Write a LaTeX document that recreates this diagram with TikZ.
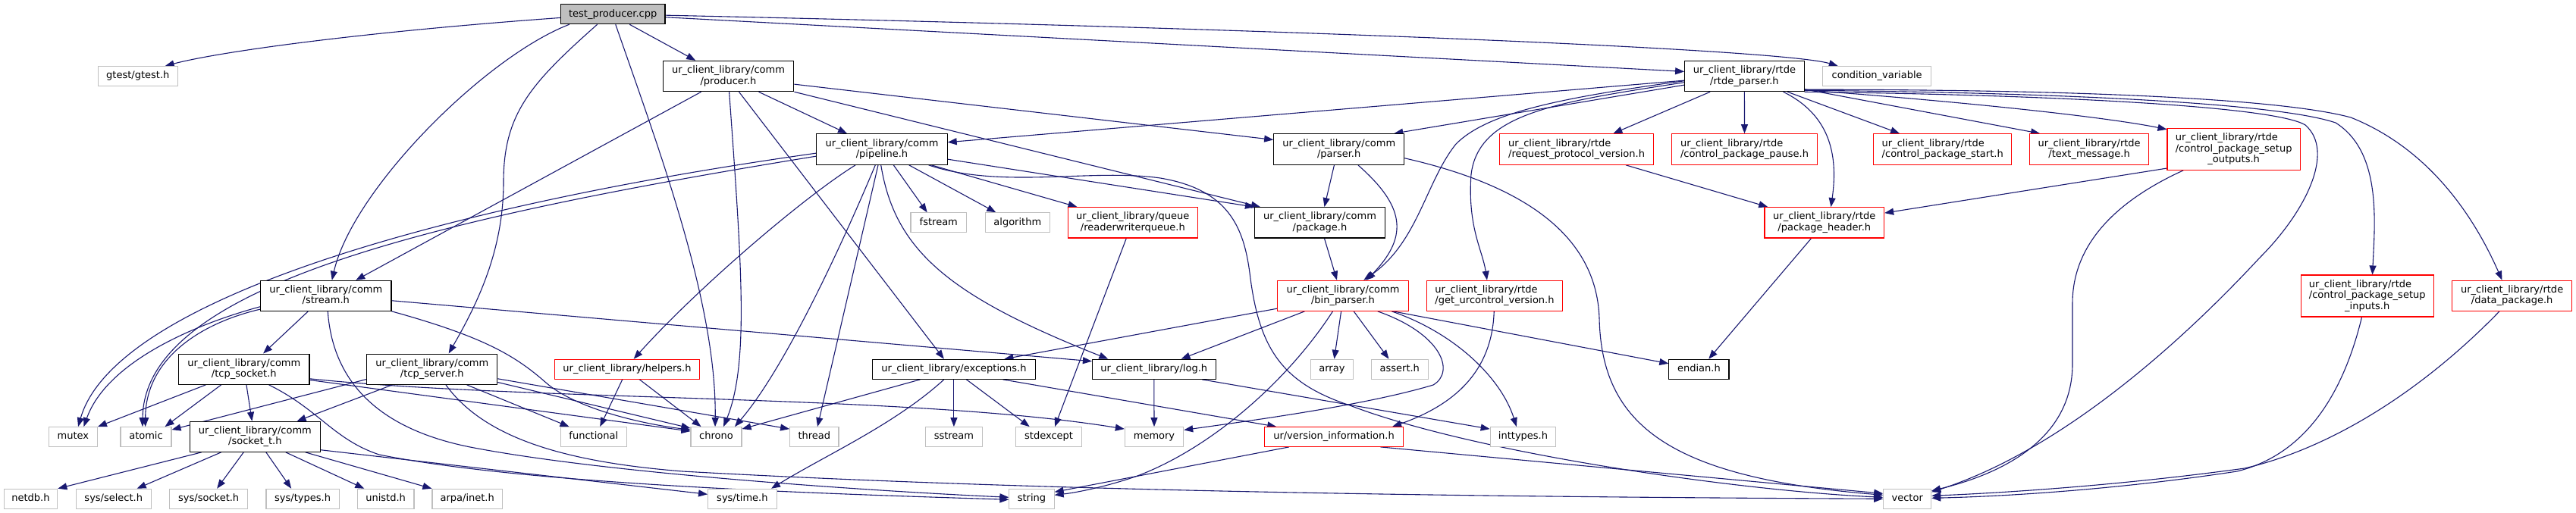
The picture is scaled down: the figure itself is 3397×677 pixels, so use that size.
\documentclass[tikz,border=0pt]{standalone}
\usepackage{fontspec}
\newfontfamily\djfont{DejaVu Sans}
\usetikzlibrary{arrows.meta,backgrounds}
\definecolor{edgeblue}{HTML}{191970}
\definecolor{grey75}{HTML}{BFBFBF}
\newcommand\nodefont{\djfont\fontsize{13}{14.4}\selectfont}
\newcommand\strt{\rule[-3.2pt]{0pt}{12.8pt}}
\newsavebox\cubox
\newcommand\cunder[2]{\sbox\cubox{#1}\makebox[\wd\cubox][c]{#2}}
\tikzset{
 nb/.style={draw=black, fill=white, line width=1.1pt, inner sep=0pt, font=\nodefont, align=center},
 sysn/.style={nb, draw=grey75},
 trn/.style={nb, draw=red},
 root/.style={nb, fill=grey75},
 sz/.style 2 args={minimum width=#1pt, minimum height=#2pt},
 edge/.style={draw=edgeblue, line width=1.1pt, -{Triangle[length=12pt,width=9pt]}}
}
\begin{document}
\begin{tikzpicture}[x=1pt,y=-1pt]
\useasboundingbox (0,0) rectangle (3397,677);
% nodes
\node[root, sz={137.6}{26}] (tp) at (808.2,18.7) {\strt test\_producer.cpp};
\node[sysn, sz={104.6}{25.7}] (gtest) at (181.8,100.5) {\strt gtest/gtest.h};
\node[nb, sz={172.7}{40.4}] (producer) at (960.5,100.5) {\strt ur\_client\_library/comm\\\strt /producer.h};
\node[nb, sz={157.5}{40.4}] (rtdep) at (2300.4,100.5) {\strt ur\_client\_library/rtde\\\strt /rtde\_parser.h};
\node[sysn, sz={143.2}{25.7}] (condvar) at (2475.1,100.5) {\strt condition\_variable};
\node[nb, sz={172.3}{40.6}] (pipeline) at (1163,197) {\strt ur\_client\_library/comm\\\strt /pipeline.h};
\node[nb, sz={172}{40.6}] (parser) at (1765.7,197) {\strt ur\_client\_library/comm\\\strt /parser.h};
\node[trn, align=left, sz={203.5}{40.6}] (reqproto) at (2079.1,197) {\strt ur\_client\_library/rtde\\\strt /request\_protocol\_version.h};
\node[trn, align=left, sz={191.2}{40.6}] (pause) at (2300.5,197) {\strt ur\_client\_library/rtde\\\strt /control\_package\_pause.h};
\node[trn, align=left, sz={181.6}{40.6}] (start) at (2561.7,197) {\strt ur\_client\_library/rtde\\\strt /control\_package\_start.h};
\node[trn, sz={157.2}{40.6}] (textmsg) at (2755.1,197) {\strt ur\_client\_library/rtde\\\strt /text\_message.h};
\node[trn, align=left, sz={175.2}{55}] (setout) at (2945.6,196.8) {\strt ur\_client\_library/rtde\\\strt /control\_package\_setup\\\strt\cunder{/control\_package\_setup}{\_outputs.h}};
\node[sysn, sz={73.6}{25.7}] (fstream) at (1237.8,293.7) {\strt fstream};
\node[sysn, sz={85.4}{25.7}] (algorithm) at (1341.8,293.7) {\strt algorithm};
\node[trn, sz={170.5}{40.3}] (rwq) at (1493.8,293.8) {\strt ur\_client\_library/queue\\\strt /readerwriterqueue.h};
\node[nb, sz={172}{40.3}] (package) at (1740.5,293.8) {\strt ur\_client\_library/comm\\\strt /package.h};
\node[trn, sz={157.6}{40.3}] (pkghdr) at (2405.8,293.8) {\strt ur\_client\_library/rtde\\\strt /package\_header.h};
\node[nb, sz={172.4}{40}] (stream) at (429.8,390.3) {\strt ur\_client\_library/comm\\\strt /stream.h};
\node[trn, sz={172.3}{40}] (binparser) at (1771,390.3) {\strt ur\_client\_library/comm\\\strt /bin\_parser.h};
\node[trn, align=left, sz={179.4}{40}] (geturc) at (1971,390.3) {\strt ur\_client\_library/rtde\\\strt /get\_urcontrol\_version.h};
\node[trn, align=left, sz={175.1}{55}] (setin) at (3121.7,390.5) {\strt ur\_client\_library/rtde\\\strt /control\_package\_setup\\\strt\cunder{/control\_package\_setup}{\_inputs.h}};
\node[trn, sz={157.7}{40}] (datapkg) at (3312.6,390.3) {\strt ur\_client\_library/rtde\\\strt /data\_package.h};
\node[nb, sz={172.4}{40.3}] (tcpsock) at (321.8,487.2) {\strt ur\_client\_library/comm\\\strt /tcp\_socket.h};
\node[nb, sz={172}{40.3}] (tcpserv) at (569.8,487.2) {\strt ur\_client\_library/comm\\\strt /tcp\_server.h};
\node[trn, sz={191}{25.7}] (helpers) at (827,487.2) {\strt ur\_client\_library/helpers.h};
\node[nb, sz={215}{26}] (exceptions) at (1257.9,487.3) {\strt ur\_client\_library/exceptions.h};
\node[nb, sz={162.7}{26}] (log) at (1521.8,487.3) {\strt ur\_client\_library/log.h};
\node[sysn, sz={56.6}{26}] (array) at (1756.4,487.3) {\strt array};
\node[sysn, sz={74.7}{26}] (assert) at (1845.8,487.3) {\strt assert.h};
\node[nb, sz={79.1}{26}] (endian) at (2240.4,487.3) {\strt endian.h};
\node[sysn, sz={64}{25.7}] (mutex) at (96.4,576.5) {\strt mutex};
\node[sysn, sz={67}{25.7}] (atomic) at (192.5,576.5) {\strt atomic};
\node[nb, sz={172}{40}] (sockett) at (336.4,576.3) {\strt ur\_client\_library/comm\\\strt /socket\_t.h};
\node[sysn, sz={87}{25.7}] (functional) at (782.8,576.5) {\strt functional};
\node[sysn, sz={67}{25.7}] (chrono) at (944.5,576.5) {\strt chrono};
\node[sysn, sz={64.4}{25.7}] (thread) at (1073.8,576.5) {\strt thread};
\node[sysn, sz={75}{25.7}] (sstream) at (1257.9,576.5) {\strt sstream};
\node[sysn, sz={87.3}{25.7}] (stdexcept) at (1383.1,576.5) {\strt stdexcept};
\node[sysn, sz={77.3}{25.7}] (memory) at (1522,576.5) {\strt memory};
\node[trn, sz={183}{25.7}] (verinfo) at (1759,576.5) {\strt ur/version\_information.h};
\node[sysn, sz={86.6}{25.7}] (inttypes) at (2008.5,576.5) {\strt inttypes.h};
\node[sysn, sz={70.6}{26}] (netdb) at (40.5,658.3) {\strt netdb.h};
\node[sysn, sz={99.2}{26}] (sysselect) at (149.8,658.3) {\strt sys/select.h};
\node[sysn, sz={102.8}{26}] (syssocket) at (275.2,658.3) {\strt sys/socket.h};
\node[sysn, sz={96.2}{26}] (systypes) at (399.1,658.3) {\strt sys/types.h};
\node[sysn, sz={74.7}{26}] (unistd) at (508.6,658.3) {\strt unistd.h};
\node[sysn, sz={92.5}{26}] (arpa) at (616.2,658.3) {\strt arpa/inet.h};
\node[sysn, sz={90.6}{26}] (systime) at (978.9,658.3) {\strt sys/time.h};
\node[sysn, sz={59.2}{26}] (string) at (1360.5,658.3) {\strt string};
\node[sysn, sz={62.9}{26}] (vector) at (2515.2,658.3) {\strt vector};
% edges
\begin{pgfonlayer}{background}
% test_producer
\draw[edge] ([yshift=-18.3pt]tp.north west) .. controls (480,42) and (290,68) .. ([xshift=88.7pt]gtest.north west);
\draw[edge] ([xshift=11.9pt]tp.south west) .. controls (640,75) and (465,250) .. ([xshift=94.7pt]stream.north west);
\draw[edge] ([xshift=48.8pt]tp.south west) .. controls (700,110) and (664,150) .. (664,240) .. controls (664,330) and (630,400) .. ([xshift=108.4pt]tcpserv.north west);
\draw[edge] ([xshift=72.9pt]tp.south west) .. controls (870,200) and (945,400) .. ([xshift=32.6pt]chrono.north west);
\draw[edge] ([xshift=91.4pt]tp.south west) -- ([xshift=43.6pt]producer.north west);
\draw[edge] ([yshift=-17.6pt]tp.north east) -- ([yshift=-14.7pt]rtdep.north west);
\draw[edge] ([yshift=-15pt]tp.north east) .. controls (1700,38) and (2350,65) .. ([xshift=20.8pt]condvar.north west);
% producer
\draw[edge] ([xshift=51pt]producer.south west) -- ([xshift=126.2pt]stream.north west);
\draw[edge] ([xshift=88pt]producer.south west) .. controls (978,350) and (988,480) .. ([xshift=43.7pt]chrono.north west);
\draw[edge] ([xshift=100.9pt]producer.south west) -- ([xshift=95pt]exceptions.north west);
\draw[edge] ([xshift=126.9pt]producer.south west) -- ([xshift=40.7pt]pipeline.north west);
\draw[edge] ([yshift=-31.4pt]producer.north east) -- ([yshift=-8.3pt]parser.north west);
\draw[edge] (producer.south east) -- ([xshift=8pt]package.north west);
% pipeline
\draw[edge] ([yshift=-26pt]pipeline.north west) .. controls (560,275) and (150,400) .. ([xshift=39.2pt]mutex.north west);
\draw[edge] ([yshift=-30pt]pipeline.north west) .. controls (560,290) and (190,380) .. ([xshift=29.5pt]atomic.north west);
\draw[edge] ([xshift=51.8pt]pipeline.south west) .. controls (1060,260) and (920,380) .. ([xshift=104.7pt]helpers.north west);
\draw[edge] ([xshift=78pt]pipeline.south west) .. controls (1120,300) and (1040,480) .. ([xshift=58.5pt]chrono.north west);
\draw[edge] ([xshift=81.7pt]pipeline.south west) -- ([xshift=37pt]thread.north west);
\draw[edge] ([xshift=102pt]pipeline.south west) -- ([xshift=22.2pt]fstream.north west);
\draw[edge] ([xshift=122.4pt]pipeline.south west) -- ([xshift=14.8pt]algorithm.north west);
\draw[edge] ([xshift=152pt]pipeline.south west) -- ([xshift=12.5pt]rwq.north west);
\draw[edge] ([yshift=-34pt]pipeline.north east) -- (package.north west);
\draw[edge] ([xshift=85.4pt]pipeline.south west) .. controls (1180,330) and (1250,390) .. ([xshift=21.4pt]log.north west);
\draw[edge] ([xshift=148.3pt]pipeline.south west) .. controls (1320,250) and (1440,222) .. (1530,235) .. controls (1620,250) and (1640,300) .. (1648,360) .. controls (1660,460) and (1690,505) .. (1780,535) .. controls (1950,600) and (2300,648) .. ([yshift=2pt]vector.west);
% stream
\draw[edge] ([yshift=-35pt]stream.north west) .. controls (250,430) and (140,480) .. ([xshift=46.6pt]mutex.north west);
\draw[edge] ([yshift=-38.4pt]stream.north west) .. controls (270,425) and (192,470) .. ([xshift=33.2pt]atomic.north west);
\draw[edge] ([xshift=63.3pt]stream.south west) -- ([xshift=112pt]tcpsock.north west);
\draw[edge] ([yshift=-27pt]stream.north east) -- ([yshift=-3pt]log.north west);
\draw[edge] (stream.south east) .. controls (640,445) and (680,470) .. (720,505) .. controls (760,540) and (850,560) .. ([yshift=-4pt]chrono.north west);
\draw[edge] ([xshift=89.2pt]stream.south west) .. controls (440,520) and (520,570) .. (620,590) .. controls (800,625) and (1150,648) .. ([yshift=2pt]string.west);
% tcp_socket
\draw[edge] ([xshift=36.3pt]tcpsock.south west) -- (mutex.north east);
\draw[edge] ([xshift=56.6pt]tcpsock.south west) -- ([xshift=59.1pt]atomic.north west);
\draw[edge] ([xshift=89.9pt]tcpsock.south west) -- ([xshift=82.5pt]sockett.north west);
\draw[edge] ([yshift=-33.3pt]tcpsock.north east) .. controls (700,530) and (1200,520) .. ([yshift=-3pt]memory.north west);
\draw[edge] ([yshift=-35pt]tcpsock.north east) -- ([yshift=-6pt]chrono.north west);
\draw[edge] ([xshift=119.5pt]tcpsock.south west) .. controls (420,540) and (440,580) .. (500,600) .. controls (700,640) and (1100,652) .. ([yshift=-1pt]string.west);
% socket_t
\draw[edge] ([xshift=15.9pt]sockett.south west) -- (netdb.north east);
\draw[edge] ([xshift=41.8pt]sockett.south west) -- ([xshift=81pt]sysselect.north west);
\draw[edge] ([xshift=71.4pt]sockett.south west) -- ([xshift=62.9pt]syssocket.north west);
\draw[edge] ([xshift=101pt]sockett.south west) -- ([xshift=33.7pt]systypes.north west);
\draw[edge] ([xshift=126.9pt]sockett.south west) -- ([xshift=9.6pt]unistd.north west);
\draw[edge] ([xshift=152.8pt]sockett.south west) -- (arpa.north west);
\draw[edge] ([yshift=-38pt]sockett.north east) -- ([yshift=6pt]systime.west);
% tcp_server
\draw[edge] ([yshift=-34pt]tcpserv.north west) -- ([yshift=-4pt]atomic.north east);
\draw[edge] ([xshift=34.1pt]tcpserv.south west) -- ([xshift=141.7pt]sockett.north west);
\draw[edge] ([xshift=132.4pt]tcpserv.south west) -- ([xshift=11.8pt]functional.north west);
\draw[edge] ([yshift=-38pt]tcpserv.north east) -- ([yshift=-2pt]chrono.north west);
\draw[edge] ([yshift=-33.3pt]tcpserv.north east) -- ([yshift=-3pt]thread.north west);
\draw[edge] ([xshift=104.7pt]tcpserv.south west) .. controls (640,580) and (750,610) .. (900,622) .. controls (1400,650) and (2000,656) .. (vector.west);
% helpers
\draw[edge] ([xshift=89.9pt]helpers.south west) -- ([xshift=52.5pt]functional.north west);
\draw[edge] ([xshift=112.1pt]helpers.south west) -- ([xshift=14.1pt]chrono.north west);
% exceptions
\draw[edge] ([xshift=63.6pt]exceptions.south west) -- ([yshift=-3pt]chrono.north east);
\draw[edge] ([xshift=95pt]exceptions.south west) .. controls (1180,560) and (1090,600) .. ([xshift=84pt]systime.north west);
\draw[edge] (exceptions.south) -- (sstream.north);
\draw[edge] ([xshift=124.6pt]exceptions.south west) -- ([xshift=18.8pt]stdexcept.north west);
\draw[edge] ([xshift=172.7pt]exceptions.south west) -- ([xshift=16.3pt]verinfo.north west);
% log
\draw[edge] (log.south) -- (memory.north);
\draw[edge] ([xshift=145.3pt]log.south west) -- ([yshift=-3pt]inttypes.north west);
% readerwriterqueue
\draw[edge] ([xshift=77.3pt]rwq.south west) -- ([xshift=52.1pt]stdexcept.north west);
% parser
\draw[edge] ([xshift=80.3pt]parser.south west) -- ([xshift=92.5pt]package.north west);
\draw[edge] ([xshift=111.7pt]parser.south west) .. controls (1850,270) and (1860,310) .. ([xshift=117.6pt]binparser.north west);
\draw[edge] ([yshift=-32.6pt]parser.north east) .. controls (1990,240) and (2105,300) .. (2109,420) .. controls (2112,560) and (2200,630) .. ([yshift=5pt]vector.west);
% package
\draw[edge] ([xshift=92.5pt]package.south west) -- ([xshift=78.7pt]binparser.north west);
% rtde_parser
\draw[edge] ([yshift=-26.4pt]rtdep.north west) -- ([yshift=-11.6pt]pipeline.north east);
\draw[edge] ([yshift=-32.4pt]rtdep.north west) -- ([xshift=-14pt]parser.north east);
\draw[edge] ([yshift=-27pt]rtdep.north west) .. controls (2050,130) and (1960,150) .. (1920,190) .. controls (1880,240) and (1870,320) .. ([xshift=113.9pt]binparser.north west);
\draw[edge] ([yshift=-29pt]rtdep.north west) .. controls (2050,135) and (1950,150) .. (1940,230) .. controls (1935,300) and (1955,330) .. ([xshift=80.2pt]geturc.north west);
\draw[edge] ([xshift=34pt]rtdep.south west) -- ([xshift=150.6pt]reqproto.north west);
\draw[edge] (rtdep.south) -- (pause.north);
\draw[edge] ([xshift=130.5pt]rtdep.south west) .. controls (2410,150) and (2425,200) .. ([xshift=88pt]pkghdr.north west);
\draw[edge] ([xshift=136.1pt]rtdep.south west) -- ([xshift=34.7pt]start.north west);
\draw[edge] ([yshift=-38pt]rtdep.north east) -- ([xshift=14.1pt]textmsg.north west);
\draw[edge] ([yshift=-39pt]rtdep.north east) .. controls (2600,135) and (2780,155) .. ([yshift=-2pt]setout.north west);
\draw[edge] ([yshift=-39.5pt]rtdep.north east) .. controls (2700,122) and (3000,135) .. (3080,162) .. controls (3140,200) and (3132,290) .. ([xshift=94.9pt]setin.north west);
\draw[edge] ([yshift=-38.5pt]rtdep.north east) .. controls (2700,118) and (3000,128) .. (3100,155) .. controls (3200,195) and (3260,280) .. ([xshift=66.3pt]datapkg.north west);
\draw[edge] (rtdep.south east) .. controls (2700,125) and (3000,140) .. (3040,165) .. controls (3080,200) and (3040,280) .. (2980,340) .. controls (2850,480) and (2700,600) .. ([yshift=9pt]vector.east);
% setup outputs / inputs / data package
\draw[edge] ([yshift=-53.3pt]setout.north west) -- ([yshift=-8pt]pkghdr.north east);
\draw[edge] ([xshift=21.7pt]setout.south west) .. controls (2780,270) and (2733,330) .. (2733,400) -- (2733,480) .. controls (2733,580) and (2640,625) .. ([yshift=-3pt]vector.north east);
\draw[edge] ([xshift=80.9pt]setin.south west) .. controls (3090,520) and (3040,600) .. (2950,622) .. controls (2800,645) and (2650,655) .. ([yshift=1pt]vector.east);
\draw[edge] ([xshift=62.8pt]datapkg.south west) .. controls (3200,510) and (3080,590) .. (2960,618) .. controls (2800,640) and (2650,650) .. ([yshift=4pt]vector.east);
% request protocol / package header
\draw[edge] ([xshift=167.2pt]reqproto.south west) -- ([xshift=4.8pt]pkghdr.north west);
\draw[edge] ([xshift=62.1pt]pkghdr.south west) -- ([xshift=52.9pt]endian.north west);
% bin_parser
\draw[edge] ([yshift=-37.4pt]binparser.north west) -- ([xshift=174.6pt]exceptions.north west);
\draw[edge] ([xshift=36.2pt]binparser.south west) -- ([xshift=117.6pt]log.north west);
\draw[edge] ([xshift=73.2pt]binparser.south west) .. controls (1700,500) and (1600,590) .. (1500,628) .. controls (1460,642) and (1420,650) .. ([yshift=5pt]string.east);
\draw[edge] ([xshift=84.3pt]binparser.south west) -- ([xshift=31.9pt]array.north west);
\draw[edge] ([xshift=100.9pt]binparser.south west) -- ([xshift=23.6pt]assert.north west);
\draw[edge] ([xshift=132.4pt]binparser.south west) .. controls (1900,440) and (1920,490) .. (1890,508) .. controls (1800,535) and (1650,555) .. ([yshift=9pt]memory.east);
\draw[edge] ([xshift=150.9pt]binparser.south west) .. controls (1920,440) and (1980,500) .. ([xshift=35.2pt]inttypes.north west);
\draw[edge] ([xshift=152.7pt]binparser.south west) -- ([yshift=-6pt]endian.north west);
% get_urcontrol_version / version_information
\draw[edge] ([xshift=89.5pt]geturc.south west) .. controls (1968,480) and (1930,530) .. ([xshift=-15pt]verinfo.north east);
\draw[edge] ([xshift=32.9pt]verinfo.south west) -- ([yshift=9pt]string.east);
\draw[edge] ([xshift=153.5pt]verinfo.south west) -- ([yshift=7pt]vector.west);
\end{pgfonlayer}
\end{tikzpicture}
\end{document}
